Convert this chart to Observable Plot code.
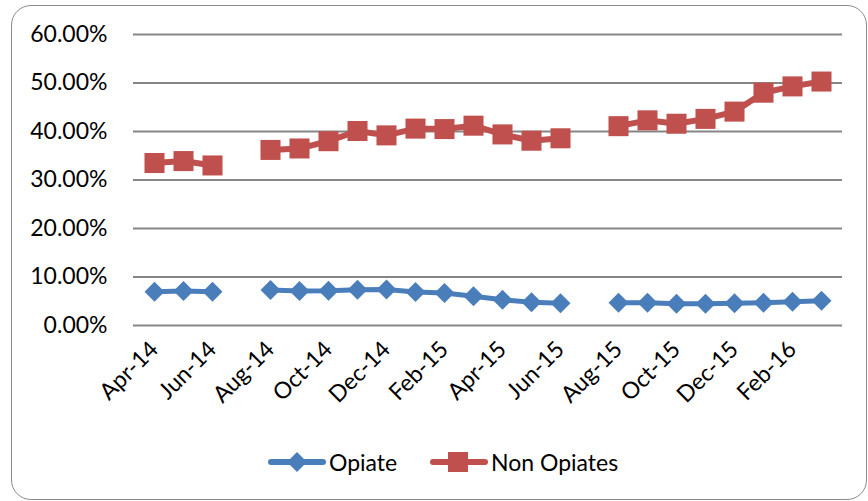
<!DOCTYPE html>
<html>
<head>
<meta charset="utf-8">
<script src="https://cdn.jsdelivr.net/npm/d3@7"></script>
<script src="https://cdn.jsdelivr.net/npm/@observablehq/plot@0.6"></script>
<style>
  body { margin: 0; background: #fff; }
  #wrap { position: relative; width: 868px; height: 501px; overflow: hidden; font-family: Lato, "Open Sans", sans-serif; background: #fff; }
  #frame { position: absolute; left: 11px; top: 5px; width: 856px; height: 495px; border: 1.5px solid #8a8a8a; border-radius: 20px; box-sizing: border-box; }
  #chart { position: absolute; left: 0; top: 0; }
  .item { position: absolute; top: 448px; display: flex; align-items: center; font-size: 23px; color: #000; white-space: nowrap; }
  .item svg { display: block; margin-right: 3px; }
</style>
</head>
<body>
<div id="wrap">
  <div id="frame"></div>
  <div id="chart"></div>
</div>
<script>
// Categories (months)
const months = ["Apr-14","May-14","Jun-14","Jul-14","Aug-14","Sep-14","Oct-14","Nov-14","Dec-14","Jan-15","Feb-15","Mar-15",
                "Apr-15","May-15","Jun-15","Jul-15","Aug-15","Sep-15","Oct-15","Nov-15","Dec-15","Jan-16","Feb-16","Mar-16"];
// Series values (percent); null = no data
const opiate = [6.95,7.1,6.95,null,7.3,7.1,7.15,7.35,7.4,6.9,6.7,6.05,5.3,4.8,4.6,null,4.7,4.7,4.5,4.5,4.6,4.7,4.9,5.1];
const nonOpiates = [33.5,33.9,33.0,null,36.2,36.5,38.0,40.1,39.2,40.6,40.5,41.2,39.4,38.1,38.6,null,41.1,42.3,41.6,42.6,44.1,48.0,49.3,50.3];
// Tick labels
const xTickLabels = ["Apr-14","Jun-14","Aug-14","Oct-14","Dec-14","Feb-15","Apr-15","Jun-15","Aug-15","Oct-15","Dec-15","Feb-16"];
const yTicks = [0,10,20,30,40,50,60];
const seriesNames = ["Opiate","Non Opiates"];
const colors = {"Opiate":"#4A7EBB","Non Opiates":"#C0504D"};

const opData = months.map((m,i) => ({month: m, value: opiate[i]}));
const nonData = months.map((m,i) => ({month: m, value: nonOpiates[i]}));

const chart = Plot.plot({
  width: 868,
  height: 440,
  marginLeft: 133,
  marginRight: 26,
  marginTop: 34,
  marginBottom: 115,
  style: {fontFamily: "Lato, 'Open Sans', sans-serif", fontSize: "23px", color: "#000", background: "transparent"},
  x: {type: "point", domain: months, padding: 0.5, label: null},
  y: {domain: [0, 60], label: null},
  marks: [
    Plot.gridY(yTicks, {stroke: "#868686", strokeOpacity: 1, strokeWidth: 2}),
    Plot.axisY(yTicks, {tickSize: 0, tickPadding: 26, tickFormat: d => d.toFixed(2) + "%", fill: "#000", label: null}),
    Plot.axisX(xTickLabels, {tickSize: 0, tickRotate: -45, tickPadding: 20, fill: "#000", label: null}),
    Plot.line(opData, {x: "month", y: "value", stroke: colors["Opiate"], strokeWidth: 5}),
    Plot.dot(opData, {x: "month", y: "value", symbol: "diamond2", r: 9, fill: colors["Opiate"], stroke: "none"}),
    Plot.line(nonData, {x: "month", y: "value", stroke: colors["Non Opiates"], strokeWidth: 6}),
    Plot.dot(nonData, {x: "month", y: "value", symbol: "square", r: 11.3, fill: colors["Non Opiates"], stroke: "none"})
  ]
});
document.getElementById("chart").appendChild(chart);

// Legend
const wrap = document.getElementById("wrap");
const legendLeft = {"Opiate": 268, "Non Opiates": 430};
seriesNames.forEach(name => {
  const item = document.createElement("div");
  item.className = "item";
  item.style.left = legendLeft[name] + "px";
  const c = colors[name];
  const marker = name === "Opiate"
    ? `<path d="M29,2 L39,12 L29,22 L19,12 Z" fill="${c}"/>`
    : `<rect x="18" y="2" width="20" height="20" fill="${c}"/>`;
  item.innerHTML = `<svg width="58" height="24"><line x1="3" y1="12" x2="55" y2="12" stroke="${c}" stroke-width="6" stroke-linecap="round"/>${marker}</svg><span>${name}</span>`;
  wrap.appendChild(item);
});
</script>
</body>
</html>
